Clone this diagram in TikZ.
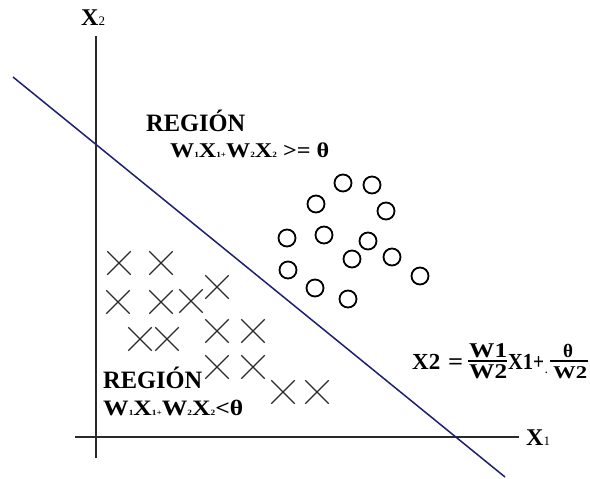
\documentclass[tikz,border=0pt]{standalone}
\usepackage{fontspec}
\usepackage{graphicx}
\setmainfont{Liberation Serif}
\usetikzlibrary{shapes.misc}
\definecolor{navy}{HTML}{1E1E78}
\definecolor{axisgray}{HTML}{2A2A2A}
\newcommand{\sbs}[1]{{\fontsize{8}{8}\selectfont #1}}
\newcommand{\fs}[1]{\fontsize{#1}{#1}\selectfont}
\begin{document}
\begin{tikzpicture}[x=1pt,y=-1pt,
  axisline/.style={draw=axisgray,line width=1.8pt},
  sepline/.style={draw=navy,line width=1.5pt},
  fracbar/.style={draw=black,line width=1.6pt},
  circ/.style={circle,draw=black,line width=1.8pt,minimum size=17pt,inner sep=0pt},
  xmark/.style={cross out,draw=axisgray,line width=1.3pt,minimum size=22pt,inner sep=0pt},
  lbl/.style={inner sep=0pt,font=\bfseries,anchor=base west},
]
\useasboundingbox[fill=white] (0,0) rectangle (590,479);
% axes
\coordinate (yT) at (96,36);
\coordinate (yB) at (96,458);
\coordinate (xL) at (75,437);
\coordinate (xR) at (519,437);
\draw[axisline] (yB) -- (yT);
\draw[axisline] (xL) -- (xR);
% separating line
\coordinate (lA) at (13,77);
\coordinate (lB) at (505,477);
\draw[sepline] (lA) -- (lB);
% axis labels
\node[lbl] (lx2) at (81,26) {\fs{24}X{\mdseries\fs{13}2}};
\node[lbl,anchor=west] (lx1) at (526,438) {\fs{24}X{\mdseries\fs{13}1}};
% circles
\foreach \x/\y [count=\i] in {343/183,372/185,316/204,386/211,287/238,324/235,368/241,352/259,392/257,288/270,315/288,348/299,420/276}
  \node[circ] (c\i) at (\x,\y) {};
% crosses
\foreach \x/\y [count=\i] in {119/263,161/263,118/302,161/302,191/301,217/287,140/339,167/339,217/331,253/331,217/367,253/367,283/392,317/392}
  \node[xmark] (m\i) at (\x,\y) {};
% region labels
\node[lbl] (r1) at (146,131) {\resizebox{99pt}{\height}{\fs{25}REGIÓN}};
\node[lbl] (r1e) at (170,157) {\resizebox{159pt}{\height}{\fs{21}W\sbs{1}X\sbs{1+}W\sbs{2}X\sbs{2} >= θ}};
\node[lbl] (r2) at (103,388) {\resizebox{99pt}{\height}{\fs{25}REGIÓN}};
\node[lbl] (r2e) at (103,415) {\resizebox{140pt}{\height}{\fs{22}W\sbs{1}X\sbs{1+}W\sbs{2}X\sbs{2}<θ}};
% equation
\node[lbl] (ex2) at (412,369) {\fs{23}X2};
\node[lbl] (eeq) at (448,369) {\resizebox{15pt}{\height}{\fs{23}=}};
\node[lbl] (en1) at (469,357) {\resizebox{38pt}{\height}{\fs{21}W1}};
\coordinate (b1L) at (468,361);
\coordinate (b1R) at (507,361);
\draw[fracbar] (b1L) -- (b1R);
\node[lbl] (ed1) at (469,378) {\resizebox{38pt}{\height}{\fs{21}W2}};
\node[lbl] (ex1) at (508,369) {\resizebox{25pt}{\height}{\fs{23}X1}};
\node[lbl] (epl) at (533,369) {\resizebox{11pt}{\height}{\fs{23}+}};
\node[lbl] (edot) at (545,373) {\fs{10}.};
\node[lbl,anchor=base] (en2) at (568,357) {\fs{19}θ};
\coordinate (b2L) at (550,361);
\coordinate (b2R) at (588,361);
\draw[fracbar] (b2L) -- (b2R);
\node[lbl] (ed2) at (553,378) {\resizebox{34pt}{\height}{\fs{18}W2}};
\end{tikzpicture}
\end{document}
